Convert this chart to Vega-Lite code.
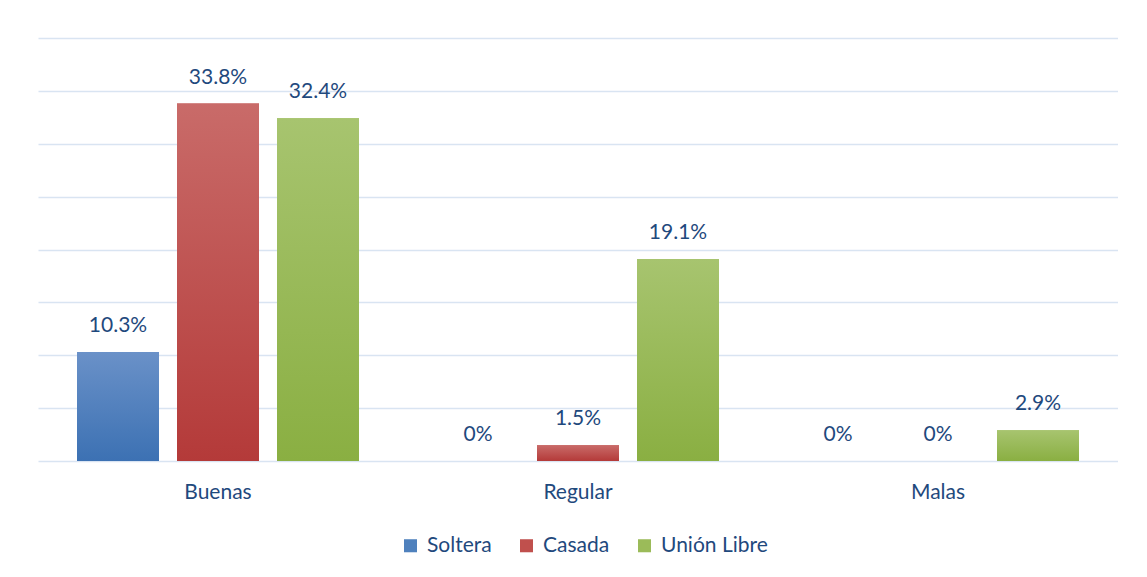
{
  "$schema": "https://vega.github.io/schema/vega-lite/v6.json",
  "width": 1080,
  "height": 423,
  "autosize": {"type": "pad"},
  "padding": {"left": 38, "top": 38, "right": 0, "bottom": 0},
  "background": "white",
  "config": {"view": {"stroke": null}, "font": "Lato"},
  "data": {
    "values": [
      {"Categoria": "Buenas", "Serie": "Soltera", "Valor": 10.3, "Etiqueta": "10.3%"},
      {"Categoria": "Buenas", "Serie": "Casada", "Valor": 33.8, "Etiqueta": "33.8%"},
      {"Categoria": "Buenas", "Serie": "Unión Libre", "Valor": 32.4, "Etiqueta": "32.4%"},
      {"Categoria": "Regular", "Serie": "Soltera", "Valor": 0, "Etiqueta": "0%"},
      {"Categoria": "Regular", "Serie": "Casada", "Valor": 1.5, "Etiqueta": "1.5%"},
      {"Categoria": "Regular", "Serie": "Unión Libre", "Valor": 19.1, "Etiqueta": "19.1%"},
      {"Categoria": "Malas", "Serie": "Soltera", "Valor": 0, "Etiqueta": "0%"},
      {"Categoria": "Malas", "Serie": "Casada", "Valor": 0, "Etiqueta": "0%"},
      {"Categoria": "Malas", "Serie": "Unión Libre", "Valor": 2.9, "Etiqueta": "2.9%"}
    ]
  },
  "encoding": {
    "x": {
      "field": "Categoria", "type": "nominal", "sort": ["Buenas", "Regular", "Malas"],
      "scale": {"paddingInner": 0, "paddingOuter": 0},
      "axis": {"title": null, "labelAngle": 0, "domain": false, "ticks": false, "grid": false, "labelPadding": 20, "labelFontSize": 21, "labelColor": "#1F497D"}
    },
    "xOffset": {
      "field": "Serie", "type": "nominal",
      "scale": {"domain": ["Soltera", "Casada", "Unión Libre"], "paddingInner": 0.18, "paddingOuter": 0.39}
    },
    "y": {
      "field": "Valor", "type": "quantitative",
      "scale": {"domain": [0, 40], "nice": false},
      "axis": {"title": null, "labels": false, "ticks": false, "domain": false, "values": [0, 5, 10, 15, 20, 25, 30, 35, 40], "gridColor": "#D9E4F2", "gridWidth": 1.5}
    }
  },
  "layer": [
    {
      "mark": {"type": "bar"},
      "encoding": {
        "color": {
          "field": "Serie", "type": "nominal",
          "scale": {"domain": ["Soltera", "Casada", "Unión Libre"], "range": ["#4F81BD", "#C0504D", "#9BBB59"]},
          "legend": {"title": null, "orient": "none", "legendX": 362, "legendY": 497, "direction": "horizontal", "symbolType": "square", "symbolSize": 170, "symbolStrokeWidth": 0, "labelFontSize": 21, "labelColor": "#1F497D", "columnPadding": 24, "labelOffset": 6}
        }
      }
    },
    {
      "transform": [{"filter": "datum.Serie === 'Soltera'"}],
      "mark": {"type": "bar", "color": {"gradient": "linear", "x1": 0, "y1": 0, "x2": 0, "y2": 1, "stops": [{"offset": 0, "color": "#6A91C8"}, {"offset": 1, "color": "#3C71B3"}]}}
    },
    {
      "transform": [{"filter": "datum.Serie === 'Casada'"}],
      "mark": {"type": "bar", "color": {"gradient": "linear", "x1": 0, "y1": 0, "x2": 0, "y2": 1, "stops": [{"offset": 0, "color": "#C96B69"}, {"offset": 1, "color": "#B43A39"}]}}
    },
    {
      "transform": [{"filter": "datum.Serie === 'Unión Libre'"}],
      "mark": {"type": "bar", "color": {"gradient": "linear", "x1": 0, "y1": 0, "x2": 0, "y2": 1, "stops": [{"offset": 0, "color": "#A7C46F"}, {"offset": 1, "color": "#8AAF42"}]}}
    },
    {
      "mark": {"type": "text", "baseline": "middle", "dy": -26, "fontSize": 21, "color": "#1F497D"},
      "encoding": {"text": {"field": "Etiqueta", "type": "nominal"}}
    }
  ]
}
